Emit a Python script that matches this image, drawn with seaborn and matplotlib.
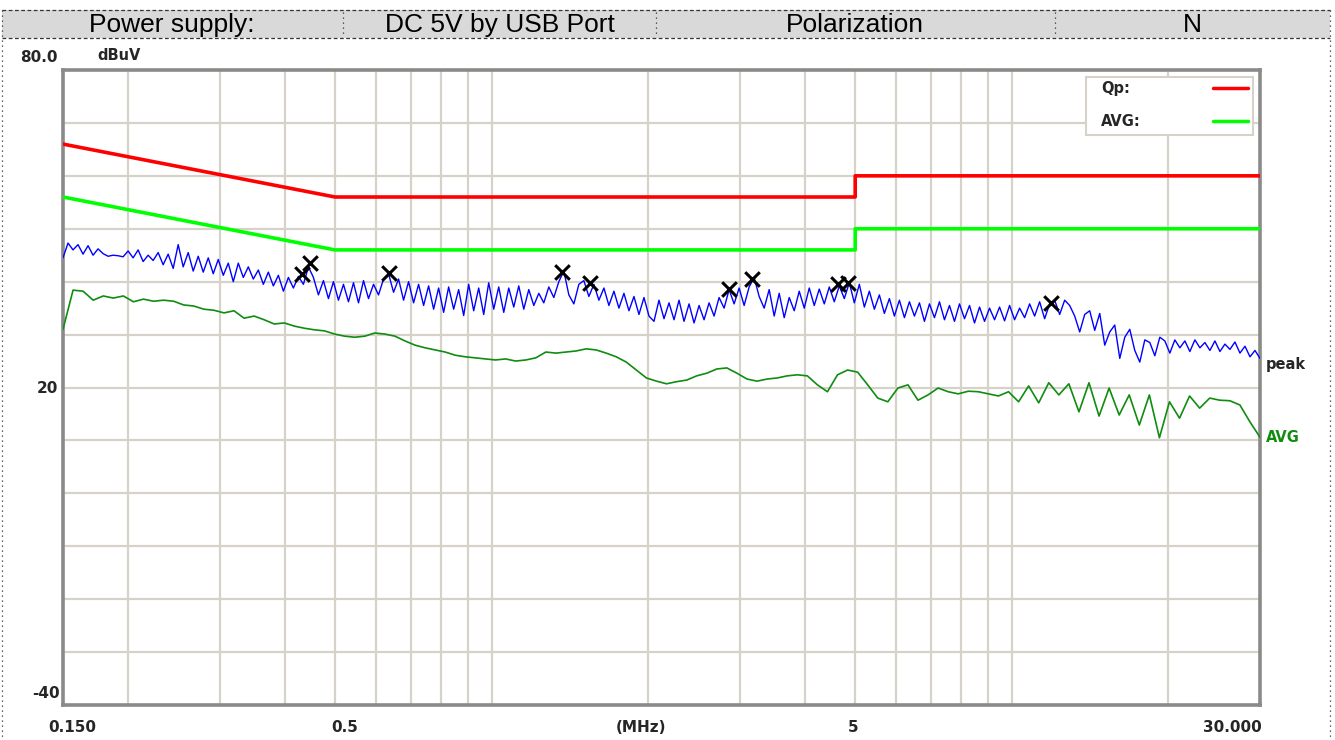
import numpy as np
import matplotlib
matplotlib.use("Agg")
import matplotlib.pyplot as plt
from matplotlib.patches import Rectangle
from matplotlib.lines import Line2D
import seaborn as sns

# ---------------- data ----------------
header_cells = ["Power supply:", "DC 5V by USB Port", "Polarization", "N"]

# limit lines (frequency MHz, dBuV)
qp_limit_f = [0.15, 0.5, 5.0, 5.0, 30.0]
qp_limit_v = [66.0, 56.0, 56.0, 60.0, 60.0]
avg_limit_f = [0.15, 0.5, 5.0, 5.0, 30.0]
avg_limit_v = [56.0, 46.0, 46.0, 50.0, 50.0]

# peak trace (sweep, log-spaced 0.15 .. 30 MHz)
peak_dbuv = [
    44.5, 47.3, 46.0, 47.0, 45.2, 46.8, 45.0, 46.2, 45.3, 44.8,
    45.0, 44.9, 44.7, 45.8, 44.5, 46.0, 43.8, 45.0, 44.0, 45.5,
    43.2, 45.2, 42.5, 47.0, 42.8, 45.5, 42.0, 44.8, 41.8, 44.5,
    41.5, 44.2, 41.2, 43.5, 40.0, 43.5, 40.8, 42.8, 40.5, 42.2,
    39.5, 41.8, 39.2, 41.2, 38.2, 40.8, 38.8, 41.0, 39.5, 42.8,
    40.8, 37.5, 40.2, 36.8, 40.0, 36.5, 39.5, 36.2, 39.8, 36.0,
    40.2, 36.8, 39.5, 37.5, 40.5, 41.5, 38.0, 40.5, 36.5, 40.0,
    36.0, 39.5, 35.5, 39.2, 34.8, 38.8, 34.2, 39.0, 34.8, 38.5,
    33.6, 39.5, 34.5, 38.8, 33.8, 39.8, 34.8, 39.0, 34.2, 38.8,
    35.2, 39.2, 34.8, 38.5, 35.5, 37.8, 36.0, 39.0, 37.0, 40.0,
    42.0, 37.5, 35.8, 39.5, 40.2, 37.2, 39.5, 36.5, 38.8, 35.5,
    38.2, 35.0, 37.8, 34.5, 37.2, 33.8, 37.0, 33.5, 32.5, 36.5,
    33.0, 36.0, 32.8, 36.5, 32.5, 35.8, 32.2, 35.5, 32.8, 36.0,
    33.5, 37.0, 35.0, 38.5, 35.8, 38.8, 35.5, 39.0, 40.8, 37.2,
    35.0, 38.5, 33.5, 37.8, 33.2, 37.0, 34.5, 38.2, 35.0, 38.8,
    35.5, 38.6, 35.8, 39.0, 36.2, 39.2, 36.8, 39.8, 36.0, 39.5,
    35.2, 38.2, 34.8, 37.5, 34.0, 36.8, 33.5, 36.5, 33.2, 36.2,
    33.5, 36.0, 32.5, 35.8, 33.2, 36.2, 32.8, 35.5, 32.5, 35.8,
    33.0, 35.5, 32.2, 35.2, 32.5, 35.0, 32.8, 35.2, 32.6, 35.5,
    32.8, 35.0, 33.2, 35.8, 33.5, 36.2, 33.0, 35.8, 36.5, 33.8,
    36.5, 35.5, 33.5, 30.5, 33.8, 34.5, 30.8, 34.0, 28.0, 30.5,
    31.8, 25.5, 29.5, 31.0, 27.0, 24.8, 29.0, 28.5, 26.0, 29.5,
    28.8, 26.5, 29.0, 27.5, 28.8, 26.8, 29.0, 27.5, 28.5, 27.0,
    28.8, 26.8, 28.2, 27.2, 28.6, 26.5, 27.8, 25.8, 27.0, 25.5,
]

# average trace (sweep, log-spaced 0.15 .. 30 MHz)
avg_dbuv = [
    31.0, 38.4, 38.2, 36.5, 37.3, 36.9, 37.3, 36.2, 36.7, 36.3,
    36.5, 36.3, 35.6, 35.4, 34.8, 34.6, 34.1, 34.5, 33.1, 33.5,
    32.8, 32.0, 32.2, 31.6, 31.2, 30.9, 30.7, 30.1, 29.7, 29.5,
    29.7, 30.3, 30.1, 29.7, 28.8, 28.0, 27.5, 27.1, 26.7, 26.1,
    25.8, 25.6, 25.4, 25.2, 25.4, 25.0, 25.2, 25.6, 26.7, 26.5,
    26.7, 26.9, 27.3, 27.1, 26.5, 25.8, 24.8, 23.3, 21.8, 21.2,
    20.7, 21.1, 21.4, 22.2, 22.7, 23.5, 23.7, 22.7, 21.6, 21.2,
    21.6, 21.8, 22.2, 22.4, 22.2, 20.5, 19.2, 22.4, 23.3, 22.9,
    20.5, 18.0, 17.3, 19.9, 20.5, 17.6, 18.6, 19.9, 19.2, 18.8,
    19.3, 19.2, 18.8, 18.4, 19.2, 17.3, 20.3, 17.1, 20.9, 18.6,
    20.7, 15.4, 20.9, 14.6, 19.9, 14.8, 18.6, 12.9, 18.6, 10.5,
    17.3, 14.2, 18.4, 16.1, 18.0, 17.6, 17.5, 16.7, 13.5, 10.6,
]

# marked peaks
marker_f = [0.432, 0.448, 0.635, 1.367, 1.548, 2.863, 3.17, 4.64, 4.85, 11.87]
marker_v = [41.5, 43.5, 41.6, 41.8, 39.8, 38.6, 40.5, 39.6, 39.8, 36.0]

grid_freqs = [0.2, 0.3, 0.4, 0.5, 0.6, 0.7, 0.8, 0.9, 1, 2, 3, 4, 5, 6, 7, 8, 9, 10, 20]
grid_levels = [-30, -20, -10, 0, 10, 20, 30, 40, 50, 60, 70]

# ---------------- figure ----------------
W, H = 1335, 740
sns.set_style("white")
plt.rcParams['font.family'] = ['DejaVu Sans']
fig = plt.figure(figsize=(W / 100, H / 100), dpi=100)

def fx(x):
    return x / W

def fy(y):
    return 1 - y / H

ax = fig.add_axes([fx(63), fy(705), fx(1260) - fx(63), fy(70) - fy(705)])

peak_f = np.geomspace(0.15, 30.0, len(peak_dbuv))
avg_f = np.geomspace(0.15, 30.0, len(avg_dbuv))

sns.lineplot(x=qp_limit_f, y=qp_limit_v, ax=ax, color="#ff0000", lw=2.6,
             estimator=None, sort=False, zorder=3)
sns.lineplot(x=avg_limit_f, y=avg_limit_v, ax=ax, color="#00ff00", lw=2.6,
             estimator=None, sort=False, zorder=3)
sns.lineplot(x=avg_f, y=avg_dbuv, ax=ax, color="#108c10", lw=1.2,
             estimator=None, sort=False, zorder=4)
sns.lineplot(x=peak_f, y=peak_dbuv, ax=ax, color="#0000ff", lw=1.0,
             estimator=None, sort=False, zorder=5)
sns.scatterplot(x=marker_f, y=marker_v, ax=ax, marker="x", s=110, color="black",
                linewidth=2.2, zorder=6)

ax.set_xscale("log")
ax.set_xlim(0.15, 30.0)
ax.set_ylim(-40, 80)
ax.set_xticks(grid_freqs)
ax.set_xticks([], minor=True)
ax.set_yticks(grid_levels)
ax.set_xticklabels([])
ax.set_yticklabels([])
ax.tick_params(length=0)
ax.grid(True, color="#d6d2ca", lw=1.6, zorder=0)
ax.set_axisbelow(True)
ax.set_xlabel("")
ax.set_ylabel("")
for s in ax.spines.values():
    s.set_color("#8a8a8a")
    s.set_linewidth(2.6)

# legend box
leg_ax_box = Rectangle((fx(1086), fy(135)), fx(1253) - fx(1086), fy(77) - fy(135),
                       transform=fig.transFigure, facecolor="white",
                       edgecolor="#d6d2ca", lw=1.5, zorder=10)
fig.patches.append(leg_ax_box)
fig.text(fx(1101), fy(88), "Qp:", fontsize=10.5, fontweight="bold", va="center", ha="left", zorder=11)
fig.text(fx(1101), fy(121), "AVG:", fontsize=10.5, fontweight="bold", va="center", ha="left", zorder=11)
fig.lines.append(Line2D([fx(1213), fx(1248)], [fy(88), fy(88)], transform=fig.transFigure,
                        color="#ff0000", lw=2.5, zorder=11))
fig.lines.append(Line2D([fx(1213), fx(1248)], [fy(121), fy(121)], transform=fig.transFigure,
                        color="#00ff00", lw=2.5, zorder=11))

# axis labels (as drawn by the instrument software)
tick_font = dict(fontsize=11, fontweight="bold", va="center")
fig.text(fx(20), fy(57), "80.0", ha="left", **tick_font)
fig.text(fx(97), fy(56), "dBuV", ha="left", fontsize=10.5, fontweight="bold", va="center")
fig.text(fx(58), fy(389), "20", ha="right", **tick_font)
fig.text(fx(60), fy(694), "-40", ha="right", **tick_font)
fig.text(fx(72), fy(727), "0.150", ha="center", **tick_font)
fig.text(fx(345), fy(727), "0.5", ha="center", **tick_font)
fig.text(fx(641), fy(727), "(MHz)", ha="center", **tick_font)
fig.text(fx(853), fy(727), "5", ha="center", **tick_font)
fig.text(fx(1232), fy(727), "30.000", ha="center", **tick_font)
fig.text(fx(1266), fy(364), "peak", ha="left", fontsize=10.5, fontweight="bold", va="center")
fig.text(fx(1266), fy(438), "AVG", ha="left", fontsize=10.5, fontweight="bold", va="center",
         color="#108c10")

# header table
fig.patches.append(Rectangle((fx(2), fy(38)), fx(1330) - fx(2), fy(10) - fy(38),
                             transform=fig.transFigure, facecolor="#d9d9d9",
                             edgecolor="none", zorder=0))
for yy in (10, 38):
    fig.lines.append(Line2D([fx(2), fx(1330)], [fy(yy), fy(yy)], transform=fig.transFigure,
                            color="#333333", lw=0.9, ls=(0, (3, 2))))
for xx in (2, 1330):
    fig.lines.append(Line2D([fx(xx), fx(xx)], [fy(10), fy(740)], transform=fig.transFigure,
                            color="#333333", lw=0.9, ls=(0, (1, 3))))
for xx in (343, 656, 1055):
    fig.lines.append(Line2D([fx(xx), fx(xx)], [fy(12), fy(37)], transform=fig.transFigure,
                            color="#333333", lw=0.9, ls=(0, (1, 3))))
cell_centers = [172, 500, 855, 1192]
for txt, cx in zip(header_cells, cell_centers):
    fig.text(fx(cx), fy(25), txt, ha="center", va="center", fontsize=19, color="black",
             family=["Liberation Sans", "DejaVu Sans"])

fig.savefig("out.png", dpi=100)
